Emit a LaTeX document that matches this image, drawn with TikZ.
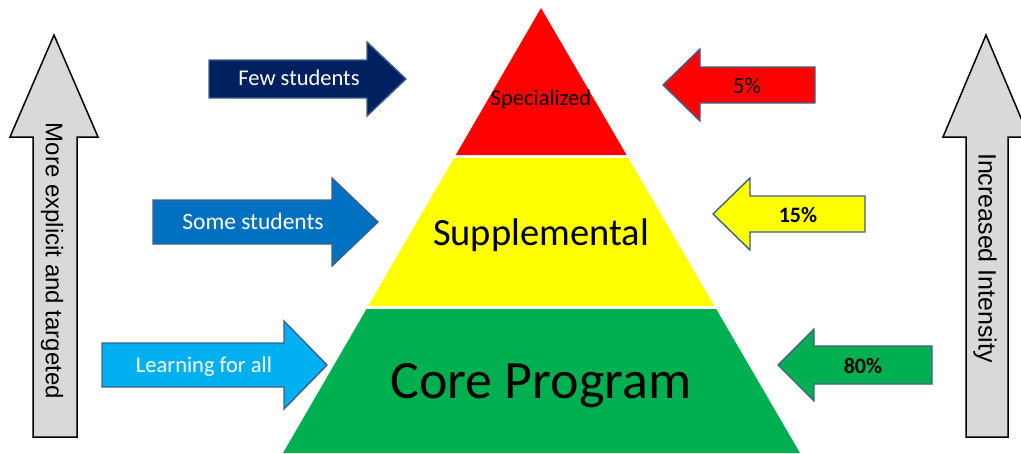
\documentclass[tikz,border=0pt]{standalone}
\usepackage{fontspec}
\setmainfont{Carlito}
\newfontfamily\arialf{Liberation Sans}
\definecolor{navyA}{HTML}{002060}
\definecolor{blueA}{HTML}{0070C0}
\definecolor{lblueA}{HTML}{00B0F0}
\definecolor{redA}{HTML}{FF0000}
\definecolor{yellowA}{HTML}{FFFF00}
\definecolor{greenA}{HTML}{00B050}
\definecolor{edgeA}{HTML}{3E5F8C}
\definecolor{grayA}{HTML}{D9D9D9}
\begin{document}
\begin{tikzpicture}[x=1pt,y=-1pt,
  colarrow/.style={draw=edgeA,line width=1.4pt,line join=miter},
  grayarrow/.style={draw=black,fill=grayA,line width=1.5pt,line join=miter},
  lbl/.style={inner sep=0pt,anchor=base,text=white},
  pct/.style={inner sep=0pt,anchor=base,text=black,font=\fontsize{22}{26}\selectfont\bfseries},
  vert/.style={inner sep=0pt,rotate=-90,font=\arialf\fontsize{24}{28}\selectfont}
]
\useasboundingbox (0,0) rectangle (1021,453);
% pyramid
\fill[redA] (541,8) -- (626.6,155) -- (455.8,155) -- cycle;
\fill[yellowA] (454.1,158) -- (628.3,158) -- (714.4,306) -- (368.2,306) -- cycle;
\fill[greenA] (366.5,309) -- (716.2,309) -- (800,453) -- (283,453) -- cycle;
\node[inner sep=0pt,anchor=base,font=\fontsize{22.5}{26}\selectfont] (spec) at (541,105) {Specialized};
\node[inner sep=0pt,anchor=base,font=\fontsize{38.5}{42}\selectfont] (supp) at (541,245) {Supplemental};
\node[inner sep=0pt,anchor=base,font=\fontsize{54}{60}\selectfont] (core) at (541,398) {Core Program};
% left arrows
\filldraw[colarrow,fill=navyA] (209,60) -- (367,60) -- (367,42) -- (406,79) -- (367,116) -- (367,98) -- (209,98) -- cycle;
\node[lbl,font=\fontsize{22.5}{26}\selectfont] (few) at (299,85) {Few students};
\filldraw[colarrow,fill=blueA] (153,200) -- (332,200) -- (332,178) -- (378,222) -- (332,266) -- (332,244) -- (153,244) -- cycle;
\node[lbl,font=\fontsize{23.5}{27}\selectfont] (some) at (253,229) {Some students};
\filldraw[colarrow,fill=lblueA] (102,343) -- (284,343) -- (284,321) -- (327,365) -- (284,409) -- (284,387) -- (102,387) -- cycle;
\node[lbl,font=\fontsize{22.5}{26}\selectfont] (learn) at (204,372) {Learning for all};
% right arrows
\filldraw[colarrow,fill=redA] (815,67) -- (700,67) -- (700,49) -- (663,85) -- (700,121) -- (700,103) -- (815,103) -- cycle;
\node[lbl,text=black,font=\fontsize{23}{26}\selectfont] (p5) at (747,93) {5\%};
\filldraw[colarrow,fill=yellowA] (865,196) -- (750,196) -- (750,178) -- (713,214) -- (750,250) -- (750,232) -- (865,232) -- cycle;
\node[pct] (p15) at (798,222) {15\%};
\filldraw[colarrow,fill=greenA] (932,346) -- (814,346) -- (814,329) -- (778,365) -- (814,401) -- (814,384) -- (932,384) -- cycle;
\node[pct] (p80) at (863,373) {80\%};
% vertical gray arrows
\filldraw[grayarrow] (33,437) -- (33,137) -- (10,137) -- (54,35) -- (98,137) -- (77,137) -- (77,437) -- cycle;
\node[vert] (expl) at (52,261) {More explicit and targeted};
\filldraw[grayarrow] (966,437) -- (966,137) -- (943,137) -- (986,35) -- (1029,137) -- (1008,137) -- (1008,437) -- cycle;
\node[vert,font=\arialf\fontsize{25}{28}\selectfont] (inten) at (985,258) {Increased Intensity};
\end{tikzpicture}
\end{document}
